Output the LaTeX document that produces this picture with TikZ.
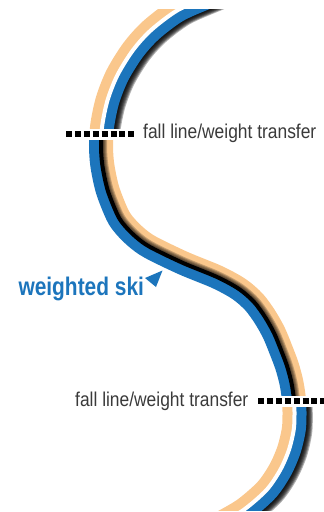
\documentclass[tikz,border=0pt]{standalone}
\usepackage{fontspec}
\newfontfamily\fallfont[FakeStretch=0.87]{Liberation Sans}
\newfontfamily\skifont[FakeStretch=0.82]{Liberation Sans}
\definecolor{skiblue}{RGB}{28,117,188}
\definecolor{skiorange}{RGB}{250,199,140}
\definecolor{labelgray}{RGB}{58,58,58}

% centre line running between the two ski tracks:
% a circular upper turn, a straight traverse, a circular lower turn
\def\centreline{plot[smooth,tension=0.5] coordinates {(228,-12) (212.1,-5) (178,10) (151.2,30) (133.1,50) (117.5,75) (107.6,100) (102.3,125) (101,145) (102.3,165) (107.6,190) (117.5,215) (125,226) (136,237) (150,247) (183,263) (217,277) (239,289) (254,302) (265,317) (274,333) (281,350) (287,366) (291.5,383) (294,400) (294.5,415) (293.7,430) (288.9,450) (280.2,470) (266.5,490) (243.5,510) (217.3,525)}}
% regions on either side of the centre line
\def\leftside{\centreline -- (-60,540) -- (-60,-40) -- cycle}
\def\rightside{\centreline -- (400,540) -- (400,-40) -- cycle}

\tikzset{
  band/.style={line width=24pt},
  gapline/.style={line width=4pt},
  dotline/.style={line width=6pt, dash pattern=on 6pt off 2.9pt},
  falltext/.style={font=\fallfont\fontsize{20}{24}\selectfont, text=labelgray, inner sep=0pt, anchor=base west},
  skitext/.style={font=\skifont\bfseries\fontsize{25.5}{30}\selectfont, text=skiblue, inner sep=0pt, anchor=base west},
}

% orange track on the left, blue track on the right with a soft drop shadow
\newcommand\drawouterpair[2]{%
  \begin{scope}
    \clip (-10,#1) rectangle (340,#2);
    \foreach \s in {1,...,7} {
      \begin{scope}[shift={(0.9*\s,0.5*\s)}]
        \clip \rightside;
        \draw[band, black, opacity=0.3] \centreline;
      \end{scope}
    }
    \begin{scope}\clip \leftside; \draw[band, skiorange] \centreline;\end{scope}
    \begin{scope}\clip \rightside; \draw[band, skiblue] \centreline;\end{scope}
    \draw[gapline, white] \centreline;
  \end{scope}}

\begin{document}
\begin{tikzpicture}[x=1pt, y=-1pt]
\useasboundingbox (0,0) rectangle (324,512);

% upper turn
\drawouterpair{9}{128}

% middle turn: blue track on the left, orange on the right
\begin{scope}
  \clip (-10,140.5) rectangle (340,395);
  \begin{scope}
    \clip \rightside;
    \draw[band, skiorange] \centreline;
    \foreach \w in {6,8,10,12} \draw[black, opacity=0.22, line width=\w pt] \centreline;
  \end{scope}
  \begin{scope}\clip \leftside; \draw[band, skiblue] \centreline;\end{scope}
  \draw[gapline, black] \centreline;
\end{scope}

% lower turn
\drawouterpair{407}{510}

% fall line markers
\coordinate (fa) at (66,134.3);
\coordinate (fb) at (134.3,134.3);
\draw[dotline] (fa) -- (fb);
\node[falltext] (ftop) at (143,138.5) {fall line/weight transfer};

\coordinate (ga) at (258,401.3);
\coordinate (gb) at (326.5,401.3);
\draw[dotline] (ga) -- (gb);
\node[falltext] (fbot) at (75,406.7) {fall line/weight transfer};

% weighted ski label and pointer
\node[skitext] (ws) at (18.3,295.3) {weighted ski};
\coordinate (p1) at (145,278);
\coordinate (p2) at (162.5,270.5);
\coordinate (p3) at (156,287);
\fill[skiblue] (p1) -- (p2) -- (p3) -- cycle;
\end{tikzpicture}
\end{document}
